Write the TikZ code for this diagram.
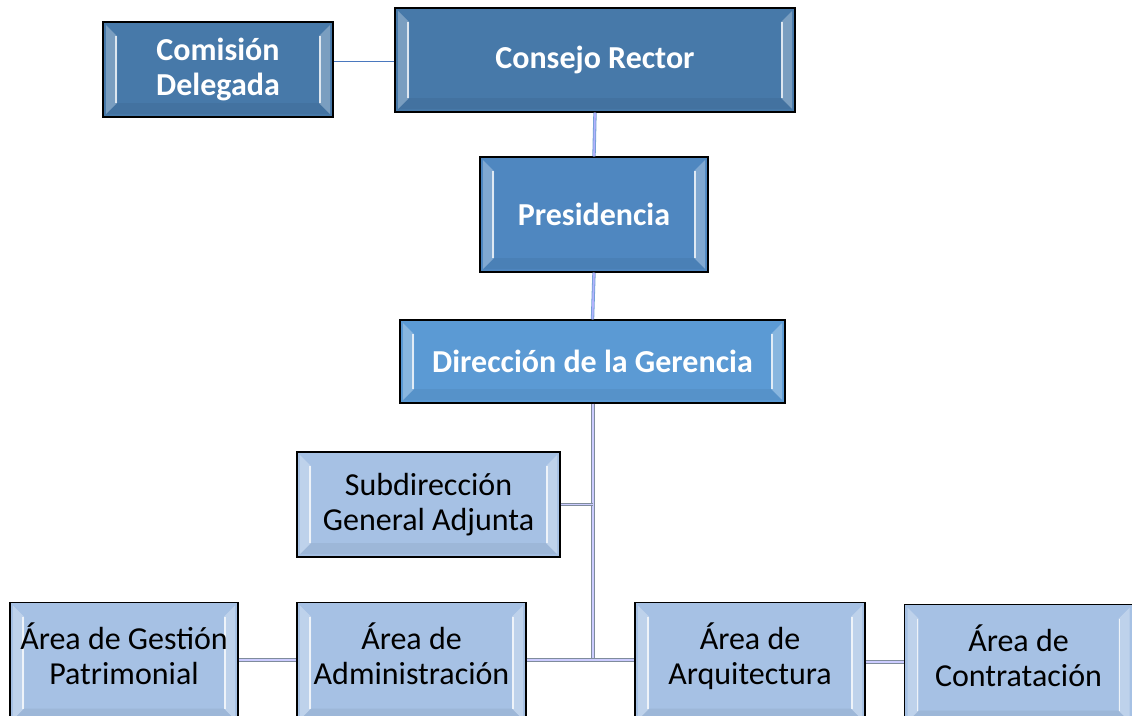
\documentclass[tikz,border=0pt]{standalone}
\usepackage{fontspec}
\setmainfont{Carlito}
\usepackage{tikz}
\usetikzlibrary{calc}

\definecolor{darkbox}{HTML}{4779A9}
\definecolor{midbox}{HTML}{4F87C0}
\definecolor{dirbox}{HTML}{5B9AD4}
\definecolor{lightbox}{HTML}{A6C1E4}
\definecolor{linkgrey}{HTML}{7F8C9C}
\definecolor{linkblue}{HTML}{6E9ED2}
\definecolor{thinblue}{HTML}{4A78BE}

\begin{document}
\begin{tikzpicture}[x=0.75pt,y=-0.75pt,
    bevel/.style={path picture={
        \fill[white,opacity=0.28] ($(path picture bounding box.north west)+(3,3)$) -- ++(11,11)
            -- ($(path picture bounding box.south west)+(14,-14)$) -- ++(-11,11) -- cycle;
        \fill[white,opacity=0.28] ($(path picture bounding box.north east)+(-3,3)$) -- ++(-11,11)
            -- ($(path picture bounding box.south east)+(-14,-14)$) -- ++(11,11) -- cycle;
        \draw[white,opacity=0.75,line width=1.3pt] ($(path picture bounding box.north west)+(13,14)$)
            -- ($(path picture bounding box.south west)+(13,-14)$);
        \draw[white,opacity=0.75,line width=1.3pt] ($(path picture bounding box.north east)+(-13,14)$)
            -- ($(path picture bounding box.south east)+(-13,-14)$);
        \fill[black,opacity=0.05] ($(path picture bounding box.south west)+(3,-3)$) -- ++(11,-11)
            -- ($(path picture bounding box.south east)+(-14,-14)$) -- ++(11,11) -- cycle;
    }},
    unit/.style={rectangle,draw=black,line width=1.1pt,bevel,align=center,inner sep=0pt},
    topunit/.style={unit,text=white,font=\fontsize{24}{26}\selectfont\bfseries},
    lowunit/.style={unit,fill=lightbox,text=black,font=\fontsize{24}{26}\selectfont},
    baseunit/.style={lowunit,anchor=north,minimum height=90pt,text depth=14pt},
    link/.style={draw=linkgrey,line width=0.6pt,double=white!80!blue,double distance=1.3pt},
    toplink/.style={draw=linkblue,line width=0.6pt,double=white!70!blue,double distance=1.3pt}]
    \clip (0,0) rectangle (1132,715);

    \node[topunit,fill=darkbox,minimum width=300pt,minimum height=78pt] (consejo) at (595,60) {Consejo Rector};
    \node[topunit,fill=darkbox,minimum width=172.5pt,minimum height=71.25pt] (comision) at (218,69.5) {Comisión\\Delegada};
    \node[topunit,fill=midbox,minimum width=171pt,minimum height=86.25pt] (presidencia) at (594,214.5) {Presidencia};
    \node[topunit,fill=dirbox,minimum width=288.75pt,minimum height=62.25pt] (direccion) at (592.5,361.5) {Dirección de la Gerencia};

    \node[lowunit,minimum width=197.25pt,minimum height=78.75pt] (subdireccion) at (428.5,504.5) {Subdirección\\General Adjunta};
    \node[baseunit,minimum width=171pt] (gestion) at (124,602) {Área de Gestión\\Patrimonial};
    \node[baseunit,minimum width=171.75pt] (administracion) at (411.5,602) {Área de\\Administración};
    \node[baseunit,minimum width=172.5pt] (arquitectura) at (750,602) {Área de\\Arquitectura};
    \node[baseunit,minimum width=171pt] (contratacion) at (1018.5,604) {Área de\\Contratación};

    \coordinate (hub) at (593,660);

    \draw[thinblue,line width=0.7pt] (consejo.west |- 0,61) -- (comision.east |- 0,61);
    \path[toplink] (consejo.south) -- (presidencia.north);
    \path[toplink] (presidencia.south) -- (direccion.north);
    \path[link] (direccion.south -| hub) -- (hub);
    \path[link] (subdireccion.east) -- (subdireccion.east -| hub);
    \path[link] (administracion.east |- hub) -- (arquitectura.west |- hub);
    \path[link] (gestion.east |- hub) -- (administracion.west |- hub);
    \path[link] (arquitectura.east |- 0,662) -- (contratacion.west |- 0,662);
\end{tikzpicture}
\end{document}
